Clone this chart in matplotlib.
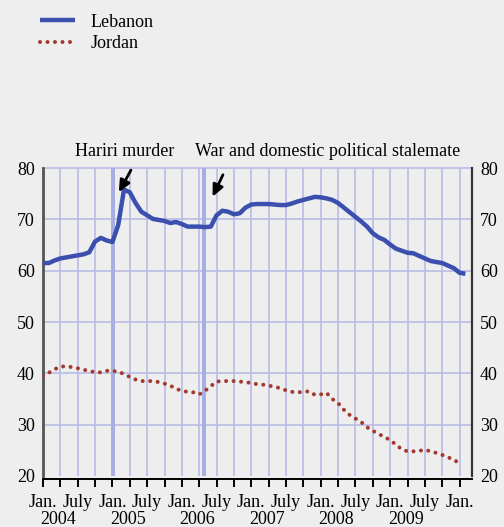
import numpy as np
import matplotlib
matplotlib.use("Agg")
import matplotlib.pyplot as plt
import matplotlib.transforms as mtransforms

plt.rcParams['font.family'] = ['Liberation Serif', 'DejaVu Serif']

# months since Jan. 2004
lebanon = [61.5, 61.5, 62.0, 62.4, 62.6, 62.8, 63.0, 63.2, 63.6, 65.7,
           66.4, 65.9, 65.6, 68.9, 75.8, 75.3, 73.2, 71.5, 70.8, 70.1,
           69.9, 69.7, 69.3, 69.5, 69.1, 68.6, 68.6, 68.6, 68.5, 68.6,
           70.8, 71.7, 71.5, 71.0, 71.2, 72.3, 72.9, 73.0, 73.0, 73.0,
           72.9, 72.8, 72.8, 73.1, 73.5, 73.8, 74.1, 74.4, 74.3, 74.1,
           73.8, 73.2, 72.3, 71.4, 70.5, 69.6, 68.6, 67.3, 66.5, 66.0,
           65.1, 64.3, 63.9, 63.5, 63.4, 62.9, 62.4, 61.9, 61.7, 61.5,
           61.0, 60.5, 59.6, 59.4]
jordan = [39.5, 40.1, 40.8, 41.3, 41.4, 41.2, 41.0, 40.7, 40.5, 40.2,
          40.2, 40.5, 40.5, 40.3, 39.9, 39.3, 38.8, 38.5, 38.5, 38.5,
          38.3, 38.0, 37.6, 37.0, 36.6, 36.4, 36.3, 35.9, 36.6, 37.5,
          38.4, 38.5, 38.5, 38.5, 38.4, 38.3, 38.1, 37.9, 37.8, 37.6,
          37.4, 37.1, 36.7, 36.4, 36.3, 36.4, 36.5, 35.8, 35.9, 36.2,
          35.0, 34.2, 32.9, 31.9, 31.2, 30.5, 29.5, 28.8, 28.2, 27.6,
          27.0, 26.1, 25.2, 24.8, 24.8, 24.9, 25.1, 24.8, 24.5, 24.1,
          23.7, 23.0, 22.7]
years = [2004, 2005, 2006, 2007, 2008, 2009]
quarter_labels = ["Jan.", "", "July", ""]
events = [12.1, 27.8]   # Hariri murder, war
event_labels = ["Hariri murder", "War and domestic political stalemate"]
yticks = [20, 30, 40, 50, 60, 70, 80]

BG = "#eeeeee"
GRID = "#b9bce6"
BAND = "#a9aee2"
BLUE = "#3a4fae"
RED = "#a43a2f"

fig = plt.figure(figsize=(5.04, 5.27), dpi=100, facecolor=BG)
ax = fig.add_axes([0.0853, 0.0968, 0.936 - 0.0853, 0.681 - 0.0968])
ax.set_facecolor(BG)

x_leb = np.arange(len(lebanon))
x_jor = np.arange(len(jordan))

ax.set_xlim(0, 74.1)
ax.set_ylim(20, 80)

# grid
for m in range(3, 74, 3):
    ax.axvline(m, color=GRID, lw=1.2, zorder=1)
for v in yticks[1:]:
    ax.axhline(v, color=GRID, lw=1.2, zorder=1, clip_on=False)
for e in events:
    ax.axvspan(e - 0.35, e + 0.35, color=BAND, lw=0, zorder=1)

ax.plot(x_leb, lebanon, color=BLUE, lw=3.2, solid_capstyle='butt', zorder=3, label="Lebanon")
ax.plot(x_jor, jordan, color=RED, lw=2.9, linestyle=(0, (0.01, 1.85)),
        dash_capstyle='round', zorder=3, label="Jordan")

# spines
ax.spines["top"].set_visible(False)
ax.spines["left"].set_color("#555555")
ax.spines["left"].set_linewidth(2)
ax.spines["right"].set_color("#333333")
ax.spines["right"].set_linewidth(1.6)
ax.spines["bottom"].set_color("black")
ax.spines["bottom"].set_linewidth(1.4)
ax.spines["bottom"].set_position(("outward", 2))

# y ticks both sides
ax.set_yticks(yticks)
ax.tick_params(axis='y', length=0, labelsize=13, pad=6, labelright=True, right=False)

# x ticks
ax.set_xticks(range(0, 74, 3))
ax.set_xticklabels([quarter_labels[(m // 3) % 4] for m in range(0, 74, 3)])
ax.set_xticks(range(0, 74, 12), minor=True)
ax.tick_params(axis='x', which='major', length=6, width=1.4, direction='out', labelsize=13, pad=5)
ax.tick_params(axis='x', which='minor', length=9, width=1.4, direction='out')

trans = mtransforms.blended_transform_factory(ax.transData, ax.transAxes)
for i, yr in enumerate(years):
    ax.text(i * 12 + 2.7, -0.142, str(yr), transform=trans, ha='center', va='center', fontsize=13)

# annotations
ax.text(14.2, 1.055, event_labels[0], transform=trans, ha='center', va='center', fontsize=13)
ax.text(26.3, 1.055, event_labels[1], transform=trans, ha='left', va='center', fontsize=13)
arrow = dict(arrowstyle="-|>,head_length=0.7,head_width=0.32", color="black", lw=2,
             shrinkA=0, shrinkB=0)
ax.annotate("", xy=(13.1, 75.3), xytext=(15.2, 79.6), arrowprops=arrow)
ax.annotate("", xy=(29.3, 74.4), xytext=(31.1, 78.7), arrowprops=arrow)

leg = fig.legend(loc='upper left', bbox_to_anchor=(0.048, 1.005), frameon=False, fontsize=13,
                 handlelength=1.9, handletextpad=0.9, labelspacing=0.25)

fig.savefig("out.png", dpi=100, facecolor=BG)
